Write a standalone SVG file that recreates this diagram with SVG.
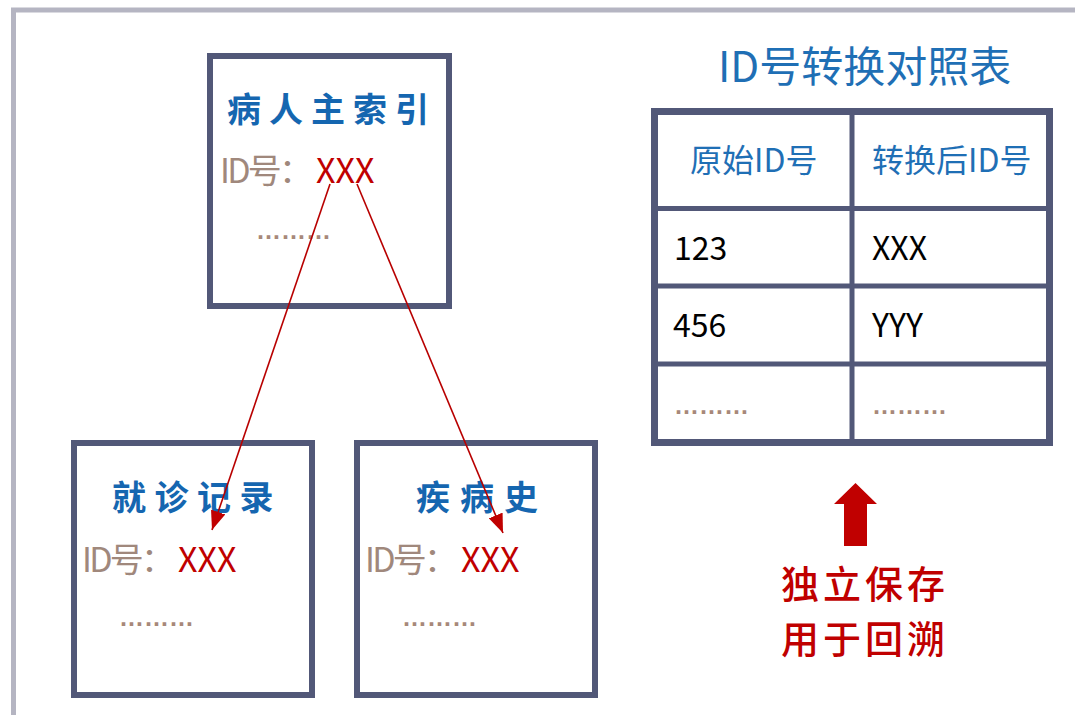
<svg xmlns="http://www.w3.org/2000/svg" width="1075" height="715" viewBox="0 0 1075 715">
<style>
.box{fill:#fff;stroke:#525878;stroke-width:6}
.grid{stroke:#525878;stroke-width:5}
.cal{font-family:"Noto Sans CJK SC","Noto Sans CJK TC",sans-serif;font-weight:700;fill:#1566b0;font-size:34px}
.lbl{font-family:"Noto Sans CJK SC",sans-serif;font-size:34px;fill:#a0887c}
.red{font-family:"Noto Sans CJK SC",sans-serif;font-size:34px;fill:#c00000}
.dots{font-family:"Liberation Sans",sans-serif;font-size:25px;font-weight:700;fill:#a8887a}
.hdr{font-family:"Noto Sans CJK SC",sans-serif;font-size:32px;fill:#1f6fb5}
.cell{font-family:"Noto Sans CJK SC",sans-serif;font-size:32px;fill:#000}
.note{font-family:"Noto Sans CJK SC",sans-serif;font-size:38px;font-weight:500;fill:#c00000}
.conn{stroke:#b80000;stroke-width:1.6;fill:none}
</style>
<defs>
<marker id="ah" viewBox="0 0 10 10" refX="10" refY="5" markerWidth="19" markerHeight="15" markerUnits="userSpaceOnUse" orient="auto" preserveAspectRatio="none">
<path d="M0,0 L10,5 L0,10 z" fill="#c00000"/>
</marker>
</defs>
<rect width="1075" height="715" fill="#fff"/>
<!-- outer frame -->
<path d="M13.5,715 L13.5,10 L1075,10" fill="none" stroke="#b5b5c2" stroke-width="5"/>

<g id="master-index">
<rect class="box" x="210" y="56" width="239" height="250"/>
<text class="cal" x="227" y="122" letter-spacing="8">病人主索引</text>
<text class="lbl" x="220" y="183" textLength="93" lengthAdjust="spacing">ID号：</text>
<text class="red" x="316" y="183">XXX</text>
<text class="dots" x="256" y="239">………</text>
</g>

<g id="visit-record">
<rect class="box" x="74" y="443" width="238" height="252"/>
<text class="cal" x="112" y="510" letter-spacing="8.5">就诊记录</text>
<text class="lbl" x="82" y="572" textLength="93" lengthAdjust="spacing">ID号：</text>
<text class="red" x="178" y="572">XXX</text>
<text class="dots" x="119" y="626">………</text>
</g>

<g id="disease-history">
<rect class="box" x="357" y="443" width="238" height="252"/>
<text class="cal" x="416" y="510" letter-spacing="10">疾病史</text>
<text class="lbl" x="365" y="572" textLength="93" lengthAdjust="spacing">ID号：</text>
<text class="red" x="461" y="572">XXX</text>
<text class="dots" x="402" y="626">………</text>
</g>

<g id="mapping-table">
<text class="hdr" x="718" y="82" style="font-size:42px">ID号转换对照表</text>
<rect x="654.5" y="111.5" width="395" height="331" fill="#fff" stroke="#525878" stroke-width="7"/>
<line class="grid" x1="852" y1="111" x2="852" y2="442"/>
<line class="grid" x1="654" y1="208.5" x2="1050" y2="208.5"/>
<line class="grid" x1="654" y1="286" x2="1050" y2="286"/>
<line class="grid" x1="654" y1="364" x2="1050" y2="364"/>
<text class="hdr" x="690" y="172">原始ID号</text>
<text class="hdr" x="872" y="172">转换后ID号</text>
<text class="cell" x="674" y="260">123</text>
<text class="cell" x="872" y="260">XXX</text>
<text class="cell" x="673" y="337">456</text>
<text class="cell" x="872" y="337">YYY</text>
<text class="dots" x="674" y="414">………</text>
<text class="dots" x="872" y="414">………</text>
</g>

<g id="note">
<path d="M855.5,483 L877,504 L867,504 L867,546 L844,546 L844,504 L834,504 z" fill="#c00000"/>
<text class="note" x="781" y="598" letter-spacing="4">独立保存</text>
<text class="note" x="781" y="653" letter-spacing="4">用于回溯</text>
</g>

<g id="connectors">
<line class="conn" x1="330" y1="184" x2="212" y2="530" marker-end="url(#ah)"/>
<line class="conn" x1="357" y1="184" x2="503" y2="533" marker-end="url(#ah)"/>
</g>
</svg>
